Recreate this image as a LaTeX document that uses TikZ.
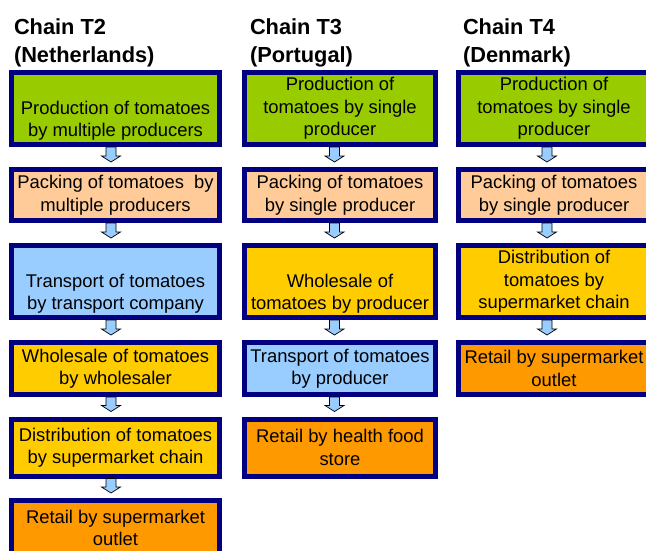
\documentclass[tikz,border=0pt]{standalone}
\usepackage{fontspec}
\setmainfont{Liberation Sans}
\usetikzlibrary{calc}
\definecolor{prodgreen}{HTML}{99CC00}
\definecolor{packpeach}{HTML}{FFCC99}
\definecolor{transblue}{HTML}{99CCFF}
\definecolor{wholegold}{HTML}{FFCC00}
\definecolor{retailorange}{HTML}{FF9900}
\definecolor{boxnavy}{HTML}{000080}
\definecolor{arrowblue}{HTML}{99CCFF}
\begin{document}
\begin{tikzpicture}[x=1pt,y=-1pt,
  title/.style={inner sep=0pt, outer sep=0pt, align=left, anchor=north west,
    font=\fontsize{21.8}{28}\selectfont\bfseries, text=black},
  box/.style={draw=boxnavy, line width=5pt, inner sep=0pt, outer sep=2.5pt,
    align=center, font=\fontsize{18.4}{22.5}\selectfont, text=black},
  colA/.style={box, minimum width=208pt},
  colB/.style={box, minimum width=191pt},
  tall/.style={minimum height=72pt},
  flowarrow/.style={draw=black, line width=0.7pt, fill=arrowblue, line join=miter,
    to path={let \p1=(\tikztostart), \p2=(\tikztotarget), \n1={\x1+(#1)} in
      (\n1-5pt,\y1) -- (\n1+5pt,\y1) -- (\n1+5pt,\y2+11pt) -- (\n1+9.5pt,\y2+11pt)
      -- (\n1,\y2+5pt) -- (\n1-9.5pt,\y2+11pt) -- (\n1-5pt,\y2+11pt) -- cycle}}
]
\useasboundingbox (0,0) rectangle (646,550);

% titles
\node[title] (t2) at (14,19) {Chain T2\\(Netherlands)};
\node[title] (t3) at (250,19) {Chain T3\\(Portugal)};
\node[title] (t4) at (463,19) {Chain T4\\(Denmark)};

% column 1
\node[colA, tall, fill=prodgreen] (a1) at (115.5,108.5) {\strut\\Production of tomatoes\\by multiple producers};
\node[colA, minimum height=51pt, fill=packpeach] (a2) at (115.5,195) {Packing of tomatoes~ by\\multiple producers};
\node[colA, tall, fill=transblue] (a3) at (115.5,281.5) {\strut\\Transport of tomatoes\\by transport company};
\node[colA, minimum height=52pt, fill=wholegold] (a4) at (115.5,368.5) {Wholesale of tomatoes\\by wholesaler};
\node[colA, minimum height=57pt, fill=wholegold] (a5) at (115.5,447.5) {Distribution of tomatoes\\by supermarket chain};
\node[colA, minimum height=55pt, fill=retailorange] (a6) at (115.5,528) {Retail by supermarket\\outlet};

% column 2
\node[colB, tall, fill=prodgreen] (b1) at (340,108.5) {Production of\\tomatoes by single\\producer};
\node[colB, minimum height=51pt, fill=packpeach] (b2) at (340,195) {Packing of tomatoes\\by single producer};
\node[colB, tall, fill=wholegold] (b3) at (340,281.5) {\strut\\Wholesale of\\tomatoes by producer};
\node[colB, minimum height=52pt, fill=transblue] (b4) at (340,368.5) {Transport of tomatoes\\by producer};
\node[colB, minimum height=57pt, fill=retailorange] (b5) at (340,447.5) {Retail by health food\\store};

% column 3
\node[colB, tall, fill=prodgreen] (c1) at (554,108.5) {Production of\\tomatoes by single\\producer};
\node[colB, minimum height=51pt, fill=packpeach] (c2) at (554,195) {Packing of tomatoes\\by single producer};
\node[colB, tall, fill=wholegold] (c3) at (554,281.5) {Distribution of\\tomatoes by\\supermarket chain};
\node[colB, minimum height=52pt, fill=retailorange] (c4) at (554,368.5) {Retail by supermarket\\outlet};

% arrows
\foreach \u/\v in {a1/a2,a2/a3,a3/a4,a4/a5,a5/a6}
  \draw[flowarrow=-4.5pt] (\u.south) to (\v.north);
\foreach \u/\v in {b1/b2,b2/b3,b3/b4,b4/b5}
  \draw[flowarrow=-5.5pt] (\u.south) to (\v.north);
\foreach \u/\v in {c1/c2,c2/c3,c3/c4}
  \draw[flowarrow=-7pt] (\u.south) to (\v.north);
\end{tikzpicture}
\end{document}
